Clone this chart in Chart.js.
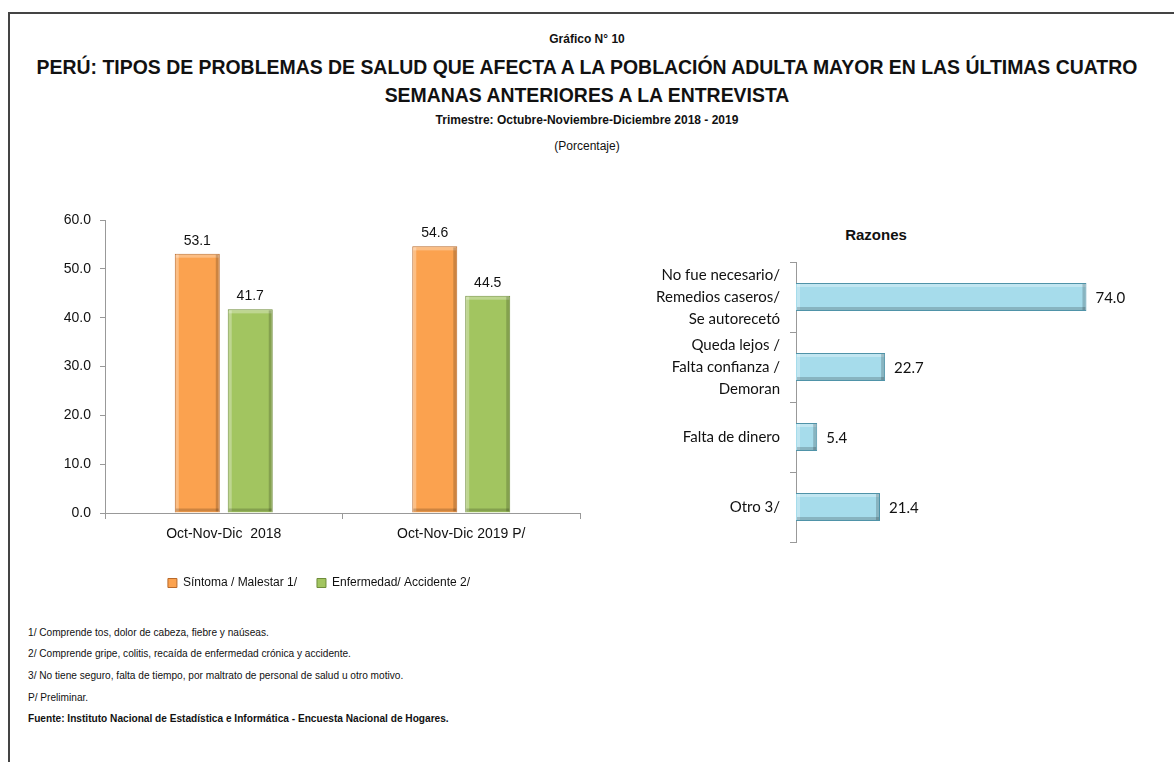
<!DOCTYPE html>
<html>
<head>
<meta charset="utf-8">
<script src="https://cdn.jsdelivr.net/npm/chart.js@4"></script>
<style>
  body { margin: 0; width: 1174px; height: 762px; background: #fff; position: relative; overflow: hidden;
         font-family: 'Liberation Sans', Arial, sans-serif; color: #111; }
  .frame { position: absolute; left: 8px; top: 12px; width: 1170px; height: 760px;
           border-top: 2px solid #444; border-left: 2px solid #444; }
  .t { position: absolute; left: 0; width: 1174px; text-align: center; }
  .note { position: absolute; left: 28px; font-size: 11px; line-height: 14px; white-space: nowrap;
          transform: scaleX(0.92); transform-origin: left center; }
  canvas { position: absolute; }
</style>
</head>
<body>
<div class="frame"></div>
<div class="t" style="top:32px;font-size:12px;font-weight:bold;">Gráfico N° 10</div>
<div class="t" style="top:53px;left:-150px;width:1474px;white-space:nowrap;font-size:21px;font-weight:bold;line-height:28px;transform:scaleX(0.925);">PERÚ: TIPOS DE PROBLEMAS DE SALUD QUE AFECTA A LA POBLACIÓN ADULTA MAYOR EN LAS ÚLTIMAS CUATRO<br>SEMANAS ANTERIORES A LA ENTREVISTA</div>
<div class="t" style="top:113px;font-size:12px;font-weight:bold;">Trimestre: Octubre-Noviembre-Diciembre 2018 - 2019</div>
<div class="t" style="top:139px;font-size:12px;">(Porcentaje)</div>
<div style="position:absolute;left:826px;top:226px;width:100px;text-align:center;font-size:15px;font-weight:bold;">Razones</div>

<canvas id="left" width="620" height="399" style="left:0px;top:200px;"></canvas>
<canvas id="right" width="540" height="310" style="left:620px;top:240px;"></canvas>

<div class="note" style="top:625px;">1/ Comprende tos, dolor de cabeza, fiebre y naúseas.</div>
<div class="note" style="top:646px;">2/ Comprende gripe, colitis, recaída de enfermedad crónica y accidente.</div>
<div class="note" style="top:668px;">3/ No tiene seguro, falta de tiempo, por maltrato de personal de salud u otro motivo.</div>
<div class="note" style="top:690px;">P/ Preliminar.</div>
<div class="note" style="top:711px;font-weight:bold;">Fuente: Instituto Nacional de Estadística e Informática - Encuesta Nacional de Hogares.</div>

<script>
const periodos = ["Oct-Nov-Dic  2018", "Oct-Nov-Dic 2019 P/"];
const sintoma = [53.1, 54.6];
const enfermedad = [41.7, 44.5];

const razones = [
  ["No fue necesario/", "Remedios caseros/", "Se autorecetó"],
  ["Queda lejos /", "Falta confianza /", "Demoran"],
  "Falta de dinero",
  "Otro 3/"
];
const razonesValores = [74.0, 22.7, 5.4, 21.4];

const SANS = "'Liberation Sans', Arial, sans-serif";

// writes the value of each bar next to it
const valueLabels = {
  id: "valueLabels",
  afterDatasetsDraw(chart, args, opts) {
    const ctx = chart.ctx;
    ctx.save();
    ctx.fillStyle = "#111";
    ctx.font = opts.font;
    chart.data.datasets.forEach((ds, i) => {
      chart.getDatasetMeta(i).data.forEach((bar, j) => {
        const txt = ds.data[j].toFixed(1);
        if (opts.horizontal) {
          ctx.textAlign = "left";
          ctx.textBaseline = "middle";
          ctx.fillText(txt, bar.x + 9, bar.y + 1);
        } else {
          ctx.textAlign = "center";
          ctx.textBaseline = "bottom";
          ctx.fillText(txt, bar.x, bar.y - 6);
        }
      });
    });
    ctx.restore();
  }
};

// rough bevel like the office chart: light top/left, dark bottom/right
const bevel = {
  id: "bevel",
  afterDatasetsDraw(chart) {
    const ctx = chart.ctx;
    const horiz = chart.options.indexAxis === "y";
    ctx.save();
    chart.data.datasets.forEach((ds, i) => {
      chart.getDatasetMeta(i).data.forEach((bar) => {
        const p = bar.getProps(["x", "y", "base", "width", "height"], true);
        let l, r, t, b;
        if (horiz) { l = p.base; r = p.x; t = p.y - p.height / 2; b = p.y + p.height / 2; }
        else { l = p.x - p.width / 2; r = p.x + p.width / 2; t = p.y; b = p.base; }
        ctx.fillStyle = "rgba(255,255,255,0.3)";
        ctx.fillRect(l + 1, t + 1, r - l - 2, 3);
        ctx.fillRect(l + 1, t + 1, 3, b - t - 2);
        ctx.fillStyle = "rgba(0,0,0,0.18)";
        ctx.fillRect(l + 1, b - 4, r - l - 2, 3);
        ctx.fillRect(r - 4, t + 1, 3, b - t - 2);
      });
    });
    ctx.restore();
  }
};

new Chart(document.getElementById("left"), {
  type: "bar",
  data: {
    labels: periodos,
    datasets: [
      { label: "Síntoma / Malestar 1/", data: sintoma,
        backgroundColor: "#FBA24F", borderColor: "#B8692A", borderWidth: 1 },
      { label: "Enfermedad/ Accidente 2/", data: enfermedad,
        backgroundColor: "#A2C560", borderColor: "#6E8C3A", borderWidth: 1 }
    ]
  },
  options: {
    responsive: false,
    maintainAspectRatio: false,
    animation: false,
    categoryPercentage: 0.446,
    barPercentage: 0.85,
    layout: { padding: { left: 58, right: 40, top: 20, bottom: 0 } },
    scales: {
      x: {
        afterFit: (s) => { s.height = 44; },
        grid: { offset: true, drawOnChartArea: false, tickLength: 6, color: "#999" },
        border: { color: "#999" },
        ticks: { padding: 7, color: "#111", font: { family: SANS, size: 14 } }
      },
      y: {
        min: 0, max: 60,
        afterFit: (s) => { s.width = 47; },
        grid: { drawOnChartArea: false, tickLength: 5, color: "#999" },
        border: { color: "#999" },
        ticks: { stepSize: 10, padding: 9, color: "#111", font: { family: SANS, size: 14 },
                 callback: (v) => v.toFixed(1) }
      }
    },
    plugins: {
      legend: {
        position: "bottom",
        labels: { boxWidth: 9, boxHeight: 9, padding: 20, color: "#111",
                  font: { family: SANS, size: 12 } }
      },
      tooltip: { enabled: false },
      valueLabels: { font: "14px " + SANS }
    }
  },
  plugins: [bevel, valueLabels]
});

new Chart(document.getElementById("right"), {
  type: "bar",
  data: {
    labels: razones,
    datasets: [
      { label: "Razones", data: razonesValores,
        backgroundColor: "#A6DCEB", borderColor: "#4F93A8", borderWidth: 1 }
    ]
  },
  options: {
    indexAxis: "y",
    responsive: false,
    maintainAspectRatio: false,
    animation: false,
    categoryPercentage: 0.4,
    barPercentage: 1,
    layout: { padding: { left: 0, right: 50, top: 22, bottom: 8 } },
    scales: {
      x: { display: false, min: 0, max: 80 },
      y: {
        afterFit: (s) => { s.width = 176; s.paddingTop = 0; s.paddingBottom = 0; },
        grid: { offset: true, drawOnChartArea: false, tickLength: 6, color: "#999" },
        border: { color: "#999" },
        ticks: { padding: 10, color: "#111", font: { family: "Lato", size: 15, lineHeight: 1.45 } }
      }
    },
    plugins: {
      legend: { display: false },
      tooltip: { enabled: false },
      valueLabels: { horizontal: true, font: "15px Lato" }
    }
  },
  plugins: [bevel, valueLabels]
});
</script>
</body>
</html>
